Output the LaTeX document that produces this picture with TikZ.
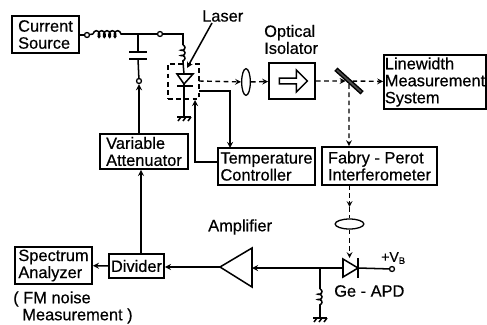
\documentclass[tikz,border=0pt]{standalone}
\usepackage{fontspec}
\setmainfont{Liberation Sans}[FakeBold=0.5]
\usetikzlibrary{shapes.geometric,shapes.arrows,decorations.pathmorphing}
\tikzset{
  every node/.style={font=\fontsize{14}{14.5}\selectfont},
  block/.style={draw, line width=1.5pt, inner sep=0pt, align=left},
  lab/.style={anchor=west, inner sep=0pt, align=left},
  term/.style={draw, line width=1.1pt, circle, fill=white, inner sep=0pt, minimum size=0.15cm},
  lens/.style={draw, line width=1.1pt, ellipse, inner sep=0pt},
  beam/.style={line width=1.2pt, dash pattern=on 4pt off 3pt},
  wire/.style={line width=1.3pt},
  coilwire/.style={line width=1.3pt, decorate, decoration={coil, aspect=0.6, amplitude=#1, segment length=0.16cm}},
}
\newcommand{\groundmark}[1]{
  \draw[wire] (#1) ++(-7,0) -- ++(14,0);
  \foreach \d in {-3,2,7} {\draw[wire] (#1) ++(\d,0) -- ++(-3,4);}
}
\begin{document}
\begin{tikzpicture}[x=0.03cm, y=-0.03cm, >=stealth]
  \useasboundingbox (0,0) rectangle (487,324);
  % boxes
  \node[block, minimum width=2.01cm, minimum height=1.11cm] (source) at (45.5,34.5) {Current\\Source};
  \node[block, minimum width=2.64cm, minimum height=1.05cm] (atten) at (144,151.5) {Variable\\Attenuator};
  \node[block, minimum width=2.91cm, minimum height=1.11cm] (temp) at (266.5,166.5) {Temperature\\Controller};
  \node[block, minimum width=3.45cm, minimum height=1.14cm] (fabry) at (379.5,166) {Fabry - Perot\\Interferometer};
  \node[block, minimum width=1.38cm, minimum height=1.08cm] (iso) at (292,81) {};
  \node[block, minimum width=3.06cm, minimum height=1.62cm] (system) at (435,82) {Linewidth\\Measurement\\System};
  \node[block, minimum width=1.65cm, minimum height=0.72cm] (divider) at (136.5,266) {Divider};
  \node[block, minimum width=2.31cm, minimum height=1.11cm] (spectrum) at (53.5,265.5) {Spectrum\\Analyzer};
  \node[draw, line width=1.2pt, single arrow, inner sep=0pt, minimum width=0.66cm, minimum height=0.84cm,
    single arrow head extend=0.06cm] (isoarrow) at (292,81) {};
  % labels
  \node[lab] (laserlab) at (202,16) {Laser};
  \node[lab] (isolab) at (264,39.5) {Optical\\ Isolator};
  \node[lab] (amplab) at (208,227) {Amplifier};
  \node[lab] (fmlab) at (13,307.5) {( FM noise\\ \ \ Measurement )};
  \node[lab] (apdlab) at (334,291) {Ge - APD};
  \node[lab, font=\fontsize{12}{13}\selectfont] (vblab) at (381,258) {+V\textsubscript{B}};
  % drive circuit
  \node[term] (t1) at (87,35) {};
  \node[term] (t2) at (160,34) {};
  \node[term] (t3) at (139,81) {};
  \node[term] (t4) at (392,269) {};
  \coordinate (ind1) at (93,34);
  \coordinate (ind2) at (122,34);
  \coordinate (capjoin) at (138,34);
  \coordinate (cap1) at (138,52);
  \coordinate (cap2) at (138,59);
  \coordinate (corner) at (183,34);
  \coordinate (res1) at (183,45);
  \coordinate (res2) at (183,62);
  \coordinate (ldtop) at (184,74);
  \coordinate (ldtip) at (184,84);
  \coordinate (ldgnd) at (184,117);
  \draw[wire] (source.east |- t1) -- (t1);
  \draw[wire] (t1) -- (ind1);
  \draw[coilwire=0.1cm] (ind1) -- (ind2);
  \draw[wire] (ind2) -- (t2);
  \draw[wire] (t2) -- (corner) -- (res1);
  \draw[coilwire=0.06cm] (res1) -- (res2);
  \draw[wire] (res2) -- (ldtop);
  \draw[wire] (capjoin) -- (cap1);
  \draw[wire] (cap2) -- (t3);
  \draw[wire] (129,52) -- (147,52);
  \draw[wire] (129,59) -- (147,59);
  % laser
  \node[draw, beam, minimum width=0.93cm, minimum height=1.05cm] (can) at (183.5,81.5) {};
  \draw[wire] (177,74) -- (193,74) -- (ldtip) -- cycle;
  \draw[wire] (177,86) -- (193,86);
  \draw[wire] (ldtip) -- (ldgnd);
  \groundmark{ldgnd}
  \coordinate (lasertip) at (187,68);
  \draw[wire, ->] (laserlab.south west) ++(10,1) -- (lasertip);
  % temperature loop
  \coordinate (canout) at (199,91);
  \coordinate (tempin) at (230,148);
  \coordinate (canin) at (195,100);
  \coordinate (tempret) at (195,162);
  \draw[wire, ->] (canout) -| (tempin);
  \draw[wire, ->] (temp.west |- tempret) -- (tempret) -- (canin);
  % optical path
  \node[lens, minimum width=0.26cm, minimum height=0.8cm] (lensa) at (246,82) {};
  \node[lens, minimum width=0.86cm, minimum height=0.3cm] (lensb) at (349.5,224) {};
  \node[draw, line width=1.1pt, fill=black!70, rotate=-42, inner sep=0pt, minimum width=1.02cm, minimum height=0.1cm] (mirror) at (349,81) {};
  \coordinate (beamout) at (199,81);
  \coordinate (fptip) at (349.5,207);
  \coordinate (fpout) at (349.5,185);
  \coordinate (apdtop) at (349.5,258);
  \draw[beam, ->] (beamout) -- (lensa);
  \draw[beam, ->] (lensa) -- (iso);
  \draw[beam, ->] (iso) -- (mirror);
  \draw[beam, ->] (mirror) -- (system);
  \draw[beam, ->] (mirror) -- (mirror |- fabry.north);
  \draw[beam, ->] (fpout) -- (fptip);
  \draw[beam] (fptip) -- (lensb);
  \draw[beam, ->] (lensb) -- (apdtop);
  % detector and amplifier
  \coordinate (ampin) at (252,268);
  \coordinate (amptip) at (220,267);
  \coordinate (join) at (320,268);
  \coordinate (apdin) at (343,268);
  \coordinate (apdout) at (358,268);
  \coordinate (gres1) at (320,289);
  \coordinate (gres2) at (320,306);
  \coordinate (ggnd) at (320,318);
  \coordinate (divtop) at (141,254);
  \draw[wire] (ampin |- 0,248) -- (amptip) -- (ampin |- 0,287) -- cycle;
  \draw[wire] (343,259) -- (343,277) -- (apdout) -- cycle;
  \draw[wire] (358,258) -- (358,278);
  \draw[wire] (apdout) -- (t4);
  \draw[wire, ->] (apdin) -- (ampin);
  \draw[wire] (join) -- (gres1);
  \draw[coilwire=0.06cm] (gres1) -- (gres2);
  \draw[wire] (gres2) -- (ggnd);
  \groundmark{ggnd}
  \draw[wire, ->] (amptip) -- (divider.east |- amptip);
  \draw[wire, ->] (divider) -- (spectrum);
  \draw[wire, ->] (divtop) -- (divtop |- atten.south);
  \draw[wire, ->] (atten.north -| t3) -- (t3);
\end{tikzpicture}
\end{document}
